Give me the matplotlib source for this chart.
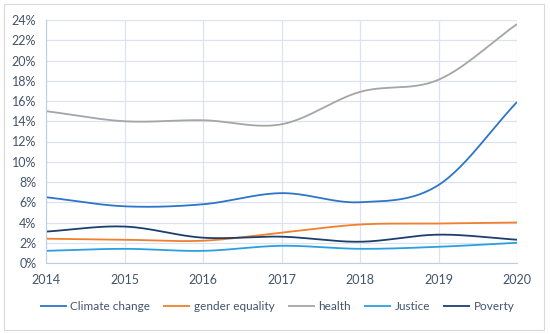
import numpy as np
import matplotlib
matplotlib.use("Agg")
import matplotlib.pyplot as plt
from matplotlib.patches import Rectangle

years = [2014, 2015, 2016, 2017, 2018, 2019, 2020]
climate_change = [6.5, 5.6, 5.8, 6.9, 6.0, 7.7, 15.9]
gender_equality = [2.4, 2.3, 2.2, 3.0, 3.8, 3.9, 4.0]
health = [15.0, 14.0, 14.1, 13.7, 16.9, 18.1, 23.6]
justice = [1.2, 1.4, 1.2, 1.7, 1.4, 1.6, 2.0]
poverty = [3.1, 3.6, 2.5, 2.6, 2.1, 2.8, 2.3]

series = [
    ("Climate change", climate_change, "#2E75C8"),
    ("gender equality", gender_equality, "#F07F2E"),
    ("health", health, "#A5A5A5"),
    ("Justice", justice, "#2AA0E0"),
    ("Poverty", poverty, "#1C3F6E"),
]

def smooth(x, y, n=30):
    # Catmull-Rom style smoothing (Excel-like smoothed line)
    x = np.asarray(x, float); y = np.asarray(y, float)
    px = np.concatenate([[2*x[0]-x[1]], x, [2*x[-1]-x[-2]]])
    py = np.concatenate([[2*y[0]-y[1]], y, [2*y[-1]-y[-2]]])
    xs, ys = [], []
    for i in range(1, len(px)-2):
        t = np.linspace(0, 1, n, endpoint=(i == len(px)-3))
        f = lambda a0, a1, a2, a3: 0.5*((2*a1) + (-a0+a2)*t + (2*a0-5*a1+4*a2-a3)*t**2 + (-a0+3*a1-3*a2+a3)*t**3)
        xs.append(f(px[i-1], px[i], px[i+1], px[i+2]))
        ys.append(f(py[i-1], py[i], py[i+1], py[i+2]))
    return np.concatenate(xs), np.concatenate(ys)

plt.rcParams['font.family'] = ['Lato', 'DejaVu Sans']
txt = "#44546A"

fig = plt.figure(figsize=(5.5, 3.34), dpi=100)
fig.patches.append(Rectangle((4/550, 4/334), 540/550, 326/334, transform=fig.transFigure,
                             fill=False, edgecolor="#D9D9D9", linewidth=0.8))
ax = fig.add_axes([46/550, 1-263/334, (517-46)/550, (263-20)/334])

for name, vals, col in series:
    sx, sy = smooth(years, vals)
    ax.plot(sx, sy, color=col, linewidth=1.3, label=name, solid_capstyle='butt')

ax.set_xlim(2014, 2020)
ax.set_ylim(0, 24)
ax.set_yticks(range(0, 25, 2))
ax.set_yticklabels([f"{v}%" for v in range(0, 25, 2)])
ax.set_xticks(years)
ax.set_xticklabels([str(y) for y in years])
ax.grid(True, color="#DCE3EE", linewidth=0.9)
ax.set_axisbelow(True)
for s in ["top", "right"]:
    ax.spines[s].set_visible(False)
ax.spines["left"].set_color("#BCCDE6")
ax.spines["bottom"].set_color("#BCCDE6")
ax.tick_params(length=0, colors=txt, labelsize=9)
ax.tick_params(axis='y', pad=7)
ax.tick_params(axis='x', pad=8)

fig.legend(loc="center", bbox_to_anchor=(277/550, 1-307/334), ncol=5, frameon=False,
           fontsize=8.5, handlelength=2.3, columnspacing=1.1, handletextpad=0.3,
           labelcolor=txt, borderpad=0, borderaxespad=0)

fig.savefig("out.png", dpi=100)
